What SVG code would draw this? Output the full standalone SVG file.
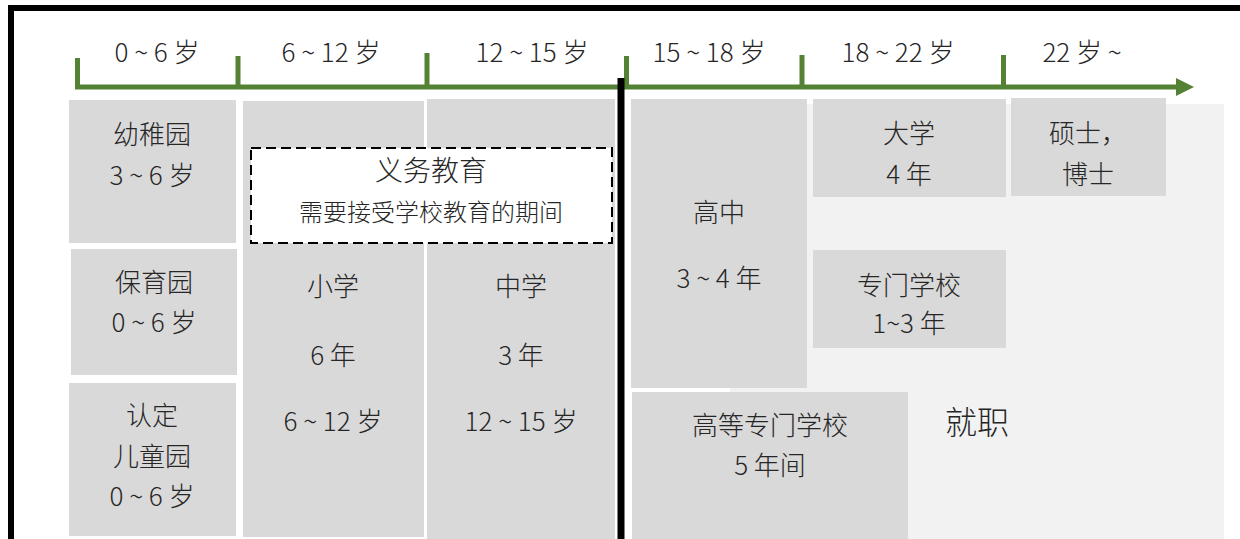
<svg xmlns="http://www.w3.org/2000/svg" width="1240" height="539" viewBox="0 0 1240 539">
<style>
.box{fill:#D9D9D9}
.t{font-family:"Microsoft YaHei","Noto Sans CJK SC",sans-serif;font-weight:300;font-size:26px;fill:#262626;text-anchor:middle}
.s{font-size:24px}
.l{font-size:28px}
.xl{font-size:32px}
.g{stroke:#548235;stroke-width:5;fill:none}
</style>
<rect width="1240" height="539" fill="#FFFFFF"/>
<rect x="11" y="8" width="1300" height="600" fill="none" stroke="#000000" stroke-width="6"/>
<rect id="panel" x="730" y="104" width="494" height="435" fill="#F2F2F2"/>
<g id="connectors">
<line class="g" x1="75" y1="87" x2="1178" y2="87"/>
<polygon points="1176,78 1194,87 1176,96" fill="#548235"/>
<line class="g" x1="77.5" y1="58" x2="77.5" y2="89"/>
<line class="g" x1="238" y1="56" x2="238" y2="89"/>
<line class="g" x1="427" y1="53" x2="427" y2="89"/>
<line class="g" x1="626.5" y1="56" x2="626.5" y2="89"/>
<line class="g" x1="802" y1="55" x2="802" y2="89"/>
<line class="g" x1="1003.5" y1="55" x2="1003.5" y2="89"/>
</g>
<g id="axis-labels">
<text class="t" x="157" y="62">0 ~ 6 岁</text>
<text class="t" x="331" y="62">6 ~ 12 岁</text>
<text class="t" x="532" y="62">12 ~ 15 岁</text>
<text class="t" x="709" y="62">15 ~ 18 岁</text>
<text class="t" x="898" y="62">18 ~ 22 岁</text>
<text class="t" x="1082" y="62">22 岁 ~</text>
</g>
<g id="kindergarten">
<rect class="box" x="69" y="100" width="167" height="143"/>
<text class="t" x="152" y="144">幼稚园</text>
<text class="t" x="152" y="185">3 ~ 6 岁</text>
</g>
<g id="nursery">
<rect class="box" x="71" y="249" width="166" height="126"/>
<text class="t" x="154" y="292">保育园</text>
<text class="t" x="154" y="332">0 ~ 6 岁</text>
</g>
<g id="certified">
<rect class="box" x="69" y="383" width="167" height="153"/>
<text class="t" x="152" y="425">认定</text>
<text class="t" x="152" y="466">儿童园</text>
<text class="t" x="152" y="506">0 ~ 6 岁</text>
</g>
<g id="elementary">
<rect class="box" x="243" y="101" width="181" height="436"/>
<text class="t" x="333" y="296">小学</text>
<text class="t" x="333" y="365">6 年</text>
<text class="t" x="333" y="431">6 ~ 12 岁</text>
</g>
<g id="junior">
<rect class="box" x="427" y="99" width="188" height="440"/>
<text class="t" x="521" y="296">中学</text>
<text class="t" x="521" y="365">3 年</text>
<text class="t" x="521" y="431">12 ~ 15 岁</text>
</g>
<g id="compulsory">
<rect x="251" y="148" width="361" height="95" fill="#FFFFFF" stroke="#000000" stroke-width="2" stroke-dasharray="10,5"/>
<text class="t l" x="431" y="181">义务教育</text>
<text class="t s" x="431" y="221">需要接受学校教育的期间</text>
</g>
<g id="senior">
<rect class="box" x="631" y="99" width="176" height="289"/>
<text class="t" x="719" y="222">高中</text>
<text class="t" x="719" y="288">3 ~ 4 年</text>
</g>
<g id="university">
<rect class="box" x="813" y="99" width="193" height="98"/>
<text class="t" x="909" y="143">大学</text>
<text class="t" x="909" y="184">4 年</text>
</g>
<g id="graduate">
<rect class="box" x="1011" y="98" width="155" height="98"/>
<text class="t" x="1088" y="143">硕士，</text>
<text class="t" x="1088" y="184">博士</text>
</g>
<g id="vocational">
<rect class="box" x="813" y="250" width="193" height="98"/>
<text class="t" x="909" y="295">专门学校</text>
<text class="t" x="909" y="333">1~3 年</text>
</g>
<g id="technical">
<rect class="box" x="632" y="392" width="276" height="147"/>
<text class="t" x="770" y="435">高等专门学校</text>
<text class="t" x="770" y="475">5 年间</text>
</g>
<g id="employment">
<text class="t xl" x="977" y="434">就职</text>
</g>
<rect id="divider" x="617.5" y="78" width="7" height="461" fill="#000000"/>
</svg>
